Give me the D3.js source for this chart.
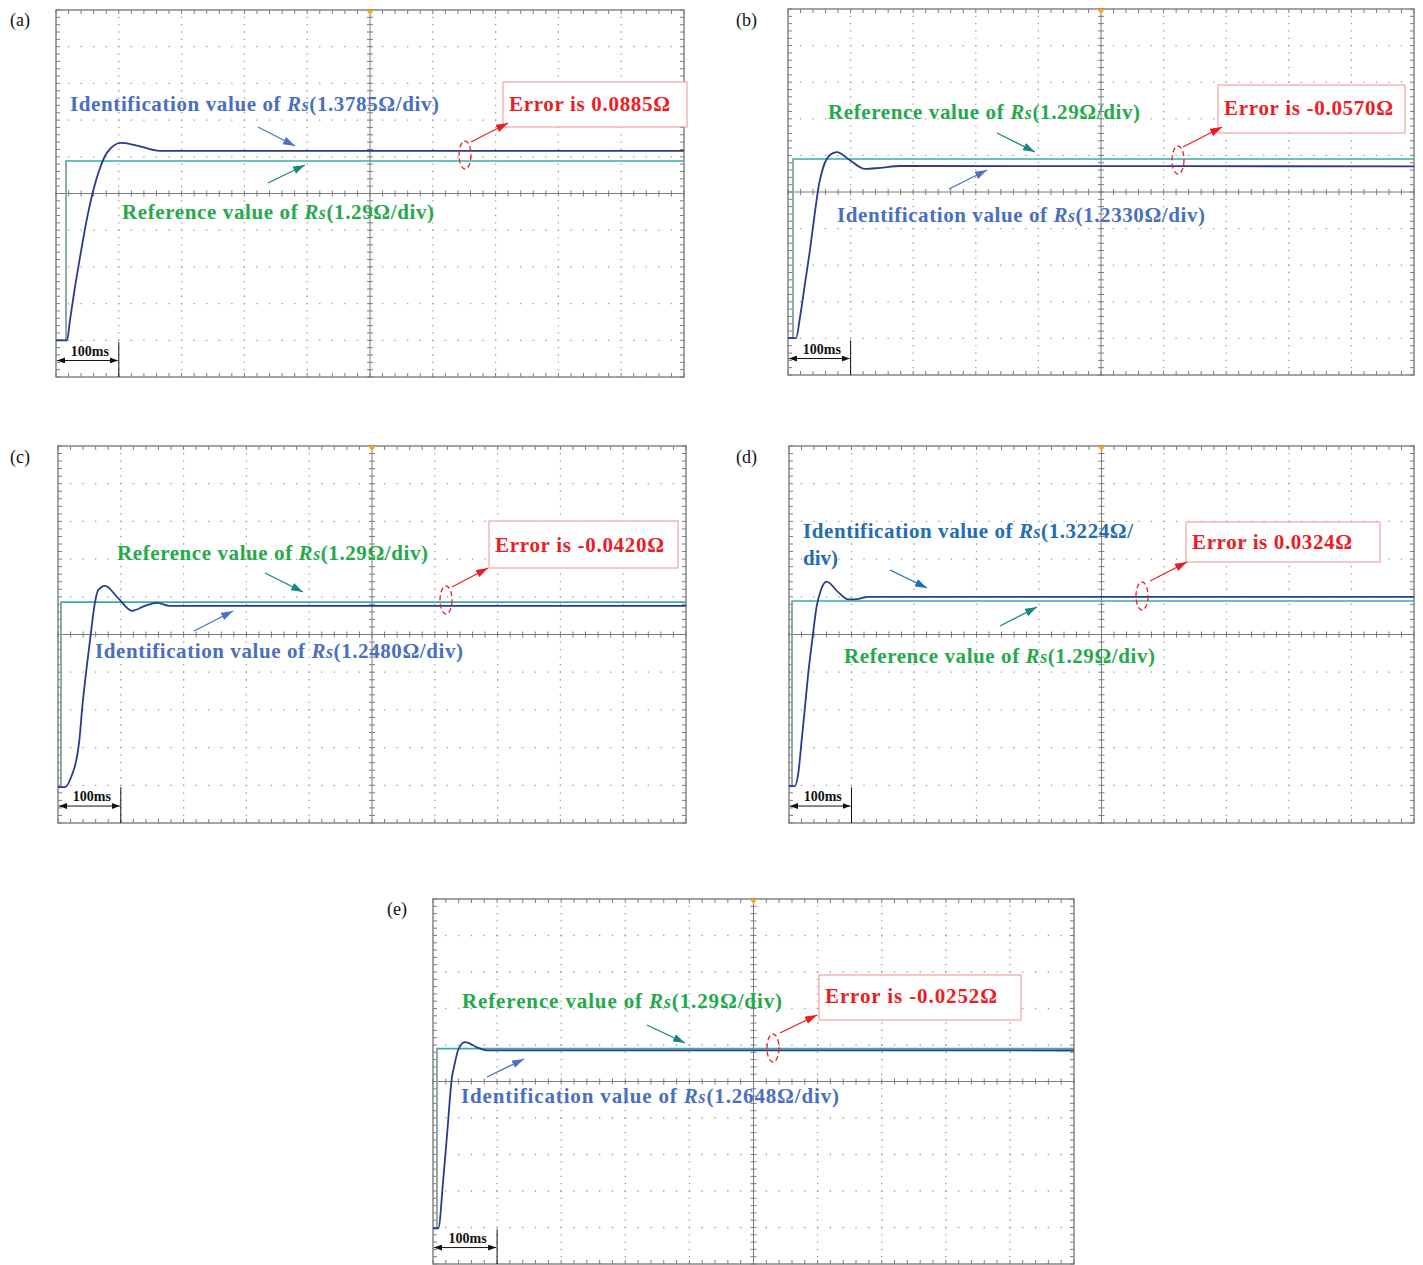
<!DOCTYPE html>
<html>
<head>
<meta charset="utf-8">
<script src="https://cdn.jsdelivr.net/npm/d3@7"></script>
<style>
  body { margin: 0; background: #fff; }
  svg { display: block; }
</style>
</head>
<body>
<div id="chart"></div>
<script>
const panelLabels = ["(a)", "(b)", "(c)", "(d)", "(e)"]
const idScales = ["1.3785", "1.2330", "1.2480", "1.3224", "1.2648"]
const refScale = "1.29"
const errors = ["0.0885", "-0.0570", "-0.0420", "0.0324", "-0.0252"]

// identification trace: [time ms, level div]
const idTraceA = [[0,-4.0],[17.5,-4.0],[22.3,-3.45],[30.3,-2.54],[39.3,-1.63],[48.9,-0.72],[61,0.19],[69,0.64],[80.7,1.10],[103.5,1.38],[126,1.32],[165.6,1.16],[1000,1.16]]
const idTraceB = [[0,-3.99],[12.8,-3.99],[19.2,-3.42],[27.2,-2.49],[35.1,-1.58],[42,-0.68],[50,0.25],[56.4,0.68],[67,1.01],[78,1.09],[99,0.87],[123,0.63],[147,0.66],[179,0.71],[1000,0.70]]
const idTraceC = [[0,-4.05],[11,-4.05],[19,-3.86],[34,-2.80],[38.7,-1.92],[44.6,-1.02],[51,-0.15],[57.8,0.74],[64,1.18],[75,1.29],[95.5,0.97],[118,0.63],[138.5,0.76],[157.6,0.84],[178,0.76],[1000,0.76]]
const idTraceD = [[0,-4.02],[9.6,-4.02],[14.9,-3.68],[20.3,-2.80],[25.6,-1.92],[30.8,-1.03],[37.2,-0.15],[44.2,0.74],[51.1,1.18],[60.2,1.40],[78.3,1.13],[94.7,0.93],[110,0.94],[126,1.0],[1000,1.0]]
const idTraceE = [[0,-4.02],[8.3,-4.02],[16,-2.68],[22.6,-1.31],[29.1,0.05],[34.3,0.52],[39.4,0.87],[49.8,1.08],[70.6,0.92],[83.6,0.855],[1000,0.85]]
const idTraces = [idTraceA, idTraceB, idTraceC, idTraceD, idTraceE]

// reference step: switch time (ms), low and high level (div)
const refStepTime = [16, 8, 4.8, 4.8, 6.2]
const refLow = [-4.0, -3.99, -4.05, -4.02, -4.02]
const refHigh = [0.886, 0.90, 0.86, 0.89, 0.90]

const timeDomain = [0, 1000]   // 10 div x 100 ms
const levelDomain = [-5, 5]    // 10 div
const majorTime = d3.range(100, 1000, 100)
const majorLevel = d3.range(-4, 5, 1)
const minorTime = d3.range(0, 1001, 20)
const minorLevel = d3.range(-5, 5.01, 0.2)

// ---- layout (pixels, panel-relative for annotations) ----
const panels = [
  {x: 56, y: 10, w: 628, h: 367, lab: [10, 26],
   idT: [14, 101, 369], refT: [66, 209, 312], idA: [202, 117, 239, 136], refA: [212, 173, 249, 155],
   box: [447, 72, 184, 45], errT: [453, 101, 161], errA: [415, 132, 452, 113], ring: [409, 145]},
  {x: 788, y: 9, w: 626, h: 366, lab: [736, 26],
   idT: [49, 213, 368], refT: [40, 110, 312], idA: [161, 180, 199, 161], refA: [209, 124, 247, 143],
   box: [430, 76, 187, 48], errT: [436, 106, 169], errA: [395, 138, 434, 118], ring: [390, 151]},
  {x: 58, y: 446, w: 628, h: 377, lab: [10, 463],
   idT: [37, 212, 368], refT: [59, 114, 311], idA: [136, 185, 175, 165], refA: [207, 127, 245, 146],
   box: [431, 75, 189, 47], errT: [437, 106, 169], errA: [394, 141, 430, 122], ring: [388, 154]},
  {x: 789, y: 446, w: 625, h: 377, lab: [736, 463], wrap: true,
   idT: [14, 92, 330], refT: [55, 217, 311], idA: [101, 124, 138, 142], refA: [211, 180, 248, 161],
   box: [397, 76, 194, 40], errT: [403, 103, 160], errA: [361, 135, 398, 116], ring: [353, 150]},
  {x: 433, y: 899, w: 641, h: 365, lab: [387, 915],
   idT: [28, 204, 378], refT: [29, 109, 320], idA: [54, 178, 91, 160], refA: [214, 126, 252, 144],
   box: [386, 76, 202, 45], errT: [392, 104, 172], errA: [347, 134, 384, 116], ring: [340, 149]}
]

const SERIF = "'Liberation Serif', 'Times New Roman', serif"
const C = {
  grid: "#9a9a9a", frame: "#7c7c7c", idLine: "#2b3a8f", refLine: "#3aada5", refEdge: "#9aa6a6",
  blueText: "#4a6fbf", blueText2: "#1f6db4", greenText: "#25a94b", teal: "#148a80",
  blueArrow: "#4a72c0", red: "#ec1c24", box: "#f3a3a3"
}

const svg = d3.select("#chart").append("svg").attr("width", 1423).attr("height", 1265)
const defs = svg.append("defs")

function marker(id, color, w, h) {
  defs.append("marker").attr("id", id)
    .attr("viewBox", `0 0 ${w} ${h}`).attr("refX", w).attr("refY", h / 2)
    .attr("markerWidth", w).attr("markerHeight", h)
    .attr("markerUnits", "userSpaceOnUse").attr("orient", "auto-start-reverse")
    .append("path").attr("d", `M0,0L${w},${h / 2}L0,${h}Z`).attr("fill", color)
}
marker("ah-red", C.red, 12, 8)
marker("ah-blue", C.blueArrow, 12, 8)
marker("ah-blue2", C.blueText2, 12, 8)
marker("ah-teal", C.teal, 12, 8)
marker("ah-black", "#111", 8, 6)

function rsLabel(g, x, y, prefix, suffix, color, len) {
  const t = g.append("text").attr("x", x).attr("y", y).attr("fill", color)
    .style("font-family", SERIF).style("font-weight", "bold").style("font-size", "21px")
  if (len) t.attr("textLength", len).attr("lengthAdjust", "spacing")
  t.append("tspan").text(prefix)
  if (suffix !== null) {
    t.append("tspan").text("R").style("font-style", "italic")
    t.append("tspan").text("s").style("font-style", "italic").style("font-size", "18px")
    t.append("tspan").text(suffix)
  }
  return t
}

function arrow(g, a, color, id, width) {
  g.append("line").attr("x1", a[0]).attr("y1", a[1]).attr("x2", a[2]).attr("y2", a[3])
    .attr("stroke", color).attr("stroke-width", width || 1.3).attr("marker-end", `url(#${id})`)
}

panels.forEach((p, i) => {
  const g = svg.append("g").attr("transform", `translate(${p.x},${p.y})`)
  const x = d3.scaleLinear().domain(timeDomain).range([0, p.w])
  const y = d3.scaleLinear().domain(levelDomain).range([p.h, 0])
  const mx = x(20) - x(0), my = y(0) - y(0.2)

  svg.append("text").attr("x", p.lab[0]).attr("y", p.lab[1]).text(panelLabels[i])
    .style("font-family", SERIF).style("font-size", "18px").attr("fill", "#111")

  // dotted graticule
  g.selectAll(".hdot").data(majorLevel.filter(d => d !== 0)).join("line")
    .attr("x1", 0).attr("x2", p.w).attr("y1", d => y(d)).attr("y2", d => y(d))
    .attr("stroke", C.grid).attr("stroke-width", 1.3)
    .attr("stroke-dasharray", `1.3 ${mx - 1.3}`).attr("stroke-dashoffset", 0.65)
  g.selectAll(".vdot").data(majorTime.filter(d => d !== 500)).join("line")
    .attr("y1", 0).attr("y2", p.h).attr("x1", d => x(d)).attr("x2", d => x(d))
    .attr("stroke", C.grid).attr("stroke-width", 1.3)
    .attr("stroke-dasharray", `1.3 ${my - 1.3}`).attr("stroke-dashoffset", 0.65)

  // centre axes with minor ticks
  g.append("line").attr("x1", 0).attr("x2", p.w).attr("y1", y(0)).attr("y2", y(0))
    .attr("stroke", C.frame).attr("stroke-width", 1)
  g.append("line").attr("y1", 0).attr("y2", p.h).attr("x1", x(500)).attr("x2", x(500))
    .attr("stroke", C.frame).attr("stroke-width", 1)
  g.selectAll(".ctx").data(minorTime).join("line")
    .attr("x1", d => x(d)).attr("x2", d => x(d)).attr("y1", y(0) - 3).attr("y2", y(0) + 3)
    .attr("stroke", C.frame).attr("stroke-width", 1)
  g.selectAll(".cty").data(minorLevel).join("line")
    .attr("y1", d => y(d)).attr("y2", d => y(d)).attr("x1", x(500) - 3).attr("x2", x(500) + 3)
    .attr("stroke", C.frame).attr("stroke-width", 1)

  // frame ticks
  g.selectAll(".btx").data(minorTime).join("line")
    .attr("x1", d => x(d)).attr("x2", d => x(d)).attr("y1", p.h).attr("y2", p.h - 4)
    .attr("stroke", C.frame)
  g.selectAll(".ttx").data(minorTime).join("line")
    .attr("x1", d => x(d)).attr("x2", d => x(d)).attr("y1", 0).attr("y2", 4)
    .attr("stroke", C.frame)
  g.selectAll(".lty").data(minorLevel).join("line")
    .attr("y1", d => y(d)).attr("y2", d => y(d)).attr("x1", 0).attr("x2", 4)
    .attr("stroke", C.frame)
  g.selectAll(".rty").data(minorLevel).join("line")
    .attr("y1", d => y(d)).attr("y2", d => y(d)).attr("x1", p.w).attr("x2", p.w - 4)
    .attr("stroke", C.frame)
  g.append("rect").attr("width", p.w).attr("height", p.h)
    .attr("fill", "none").attr("stroke", C.frame).attr("stroke-width", 1.4)

  // trigger marker
  g.append("path").attr("d", `M${x(500) - 4},0L${x(500) + 4},0L${x(500)},5Z`).attr("fill", "#f5a623")

  // reference step
  const refPts = [[0, refLow[i]], [refStepTime[i], refLow[i]], [refStepTime[i], refHigh[i]], [1000, refHigh[i]]]
  const line = d3.line().x(d => x(d[0])).y(d => y(d[1]))
  g.append("path").attr("d", line(refPts)).attr("fill", "none")
    .attr("stroke", C.refLine).attr("stroke-width", 1.6)
  g.append("path").attr("d", line(refPts.slice(1, 3))).attr("fill", "none")
    .attr("stroke", C.refEdge).attr("stroke-width", 1.6)

  // identification trace
  g.append("path").attr("d", line.curve(d3.curveMonotoneX)(idTraces[i])).attr("fill", "none")
    .attr("stroke", C.idLine).attr("stroke-width", 1.8)

  // 100 ms marker
  g.append("line").attr("x1", x(100)).attr("x2", x(100)).attr("y1", y(-4.05)).attr("y2", y(-5))
    .attr("stroke", "#111").attr("stroke-width", 1)
  g.append("line").attr("x1", x(0) + 1).attr("x2", x(100) - 1).attr("y1", y(-4.55)).attr("y2", y(-4.55))
    .attr("stroke", "#111").attr("stroke-width", 1)
    .attr("marker-end", "url(#ah-black)").attr("marker-start", "url(#ah-black)")
  g.append("text").attr("x", x(54)).attr("y", y(-4.42)).attr("text-anchor", "middle")
    .text("100ms").style("font-family", SERIF).style("font-weight", "bold").style("font-size", "14px")
    .attr("fill", "#111")

  // annotations
  const blue = p.wrap ? C.blueText2 : C.blueText
  if (p.wrap) {
    rsLabel(g, p.idT[0], p.idT[1], "Identification value of ", `(${idScales[i]}Ω/`, blue, p.idT[2])
    rsLabel(g, p.idT[0], p.idT[1] + 27, "div)", null, blue)
  } else {
    rsLabel(g, p.idT[0], p.idT[1], "Identification value of ", `(${idScales[i]}Ω/div)`, blue, p.idT[2])
  }
  rsLabel(g, p.refT[0], p.refT[1], "Reference value of ", `(${refScale}Ω/div)`, C.greenText, p.refT[2])
  arrow(g, p.idA, p.wrap ? C.blueText2 : C.blueArrow, p.wrap ? "ah-blue2" : "ah-blue")
  arrow(g, p.refA, C.teal, "ah-teal")

  g.append("rect").attr("x", p.box[0]).attr("y", p.box[1]).attr("width", p.box[2]).attr("height", p.box[3])
    .attr("fill", "#fff").attr("stroke", C.box).attr("stroke-width", 1.2)
  g.append("text").attr("x", p.errT[0]).attr("y", p.errT[1]).attr("fill", C.red)
    .attr("textLength", p.errT[2]).attr("lengthAdjust", "spacing")
    .style("font-family", SERIF).style("font-weight", "bold").style("font-size", "21px")
    .text(`Error is ${errors[i]}Ω`)
  arrow(g, p.errA, C.red, "ah-red", 1.2)
  g.append("ellipse").attr("cx", p.ring[0]).attr("cy", p.ring[1]).attr("rx", 6).attr("ry", 14)
    .attr("fill", "none").attr("stroke", C.red).attr("stroke-width", 1.3).attr("stroke-dasharray", "5 3")
})
</script>
</body>
</html>
